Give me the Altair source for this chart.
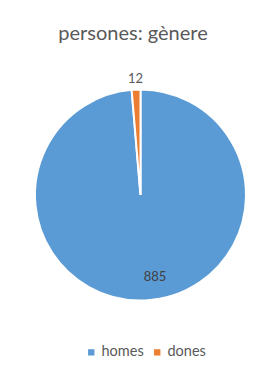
import altair as alt
import pandas as pd

genere = ["homes", "dones"]
persones = [885, 12]
colors = ["#5B9BD5", "#ED7D31"]

df = pd.DataFrame({"genere": genere, "persones": persones})

CX, CY, R = 132.5, 187, 105.5

base = alt.Chart(df).encode(
    theta=alt.Theta("persones:Q", stack=True),
    order=alt.Order("genere:N", sort="descending"),
    x=alt.value(CX),
    y=alt.value(CY),
)

arc = base.mark_arc(outerRadius=R, stroke="white", strokeWidth=2).encode(
    color=alt.Color(
        "genere:N",
        scale=alt.Scale(domain=genere, range=colors),
        legend=alt.Legend(
            title=None,
            orient="none",
            legendX=76,
            legendY=337,
            direction="horizontal",
            symbolType="square",
            symbolSize=40,
            symbolStrokeWidth=0,
            labelFont="Lato",
            labelFontSize=14.5,
            labelColor="#595959",
            labelOffset=3,
            columnPadding=6,
        ),
    )
)

lbl_out = base.mark_text(
    radius=116, font="Lato", fontSize=13, color="#595959", align="center", baseline="middle"
).encode(
    text=alt.condition("datum.genere == 'dones'", alt.Text("persones:Q"), alt.value(""))
)

lbl_in = base.mark_text(
    radius=82, dx=11, font="Lato", fontSize=13, color="#404040", align="center", baseline="middle"
).encode(
    text=alt.condition("datum.genere == 'homes'", alt.Text("persones:Q"), alt.value(""))
)

chart = (
    alt.layer(arc, lbl_out, lbl_in)
    .properties(
        width=250,
        height=358,
        padding=0,
        autosize=alt.AutoSizeParams(type="fit", contains="padding"),
        title=alt.TitleParams(
            "persones: gènere",
            font="Lato",
            fontSize=20,
            fontWeight="normal",
            color="#595959",
            anchor="middle",
            offset=-30,
            dy=6,
        ),
    )
    .configure_view(stroke=None)
)

chart.save("out.html", embed_options={"renderer": "svg", "actions": False})
